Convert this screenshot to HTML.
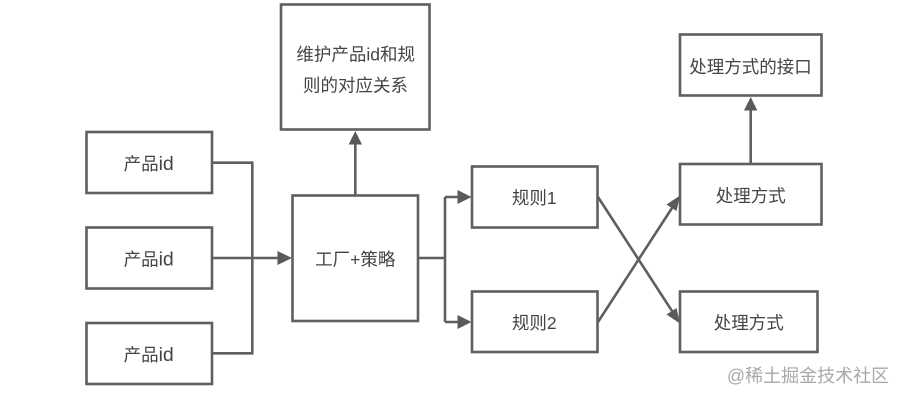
<!DOCTYPE html>
<html>
<head>
<meta charset="utf-8">
<style>
html,body{margin:0;padding:0;background:#fff;width:903px;height:400px;overflow:hidden}
svg{display:block}
text{font-family:"Liberation Sans","Noto Sans CJK SC",sans-serif;font-size:17.5px;fill:#444;text-anchor:middle}
tspan{font-size:19.5px}
rect{fill:#fff;stroke:#5f5f5f;stroke-width:2.6}
.l{fill:none;stroke:#5f5f5f;stroke-width:2.6}
.h{fill:#5a5a5a}
</style>
</head>
<body>
<svg width="903" height="400" viewBox="0 0 903 400" xmlns="http://www.w3.org/2000/svg">
<rect x="86.5" y="132" width="125.5" height="61"/>
<rect x="86.5" y="227.5" width="125.5" height="61"/>
<rect x="86.5" y="323" width="125.5" height="61"/>
<rect x="292.5" y="195.5" width="125.5" height="125.5"/>
<rect x="281" y="4.5" width="148.5" height="125"/>
<rect x="472" y="166.5" width="125.5" height="61"/>
<rect x="472" y="291.5" width="125.5" height="60.5"/>
<rect x="680" y="164" width="141.5" height="60.5"/>
<rect x="680" y="291.5" width="137.5" height="60.5"/>
<rect x="680" y="34.5" width="141.5" height="61"/>

<path class="l" d="M212 162.7H252.3V353.3H212M212 258H280"/>
<path class="h" d="M277.5 251L292 258L277.5 265Z"/>
<path class="l" d="M355.3 195.5V140"/>
<path class="h" d="M355.3 131L362 144.5H348.6Z"/>
<path class="l" d="M418 258H445M445 197V322M445 197H460M445 322H460"/>
<path class="h" d="M457.5 190L471.5 197L457.5 204Z"/>
<path class="h" d="M457.5 315L471.5 322L457.5 329Z"/>
<path class="l" d="M598 197L672 311"/>
<path class="h" d="M680 323.5L666.5 314.5L676.5 308Z"/>
<path class="l" d="M598 322L672 208"/>
<path class="h" d="M680 195.5L666.5 204.5L676.5 211Z"/>
<path class="l" d="M750.7 164V106"/>
<path class="h" d="M750.7 97L757.3 110.5H744Z"/>

<text x="148.7" y="170">产品<tspan>id</tspan></text>
<text x="148.7" y="265.5">产品<tspan>id</tspan></text>
<text x="148.7" y="361">产品<tspan>id</tspan></text>
<text x="355.3" y="265.5">工厂+策略</text>
<text x="355.7" y="60.5">维护产品id和规</text>
<text x="355.5" y="91.5">则的对应关系</text>
<text x="534.2" y="204">规则1</text>
<text x="534.2" y="329">规则2</text>
<text x="750.8" y="202">处理方式</text>
<text x="748.8" y="329">处理方式</text>
<text x="750.5" y="73">处理方式的接口</text>
<text x="808" y="382" style="font-size:18px;fill:#a8a8a8">@稀土掘金技术社区</text>
</svg>
</body>
</html>
